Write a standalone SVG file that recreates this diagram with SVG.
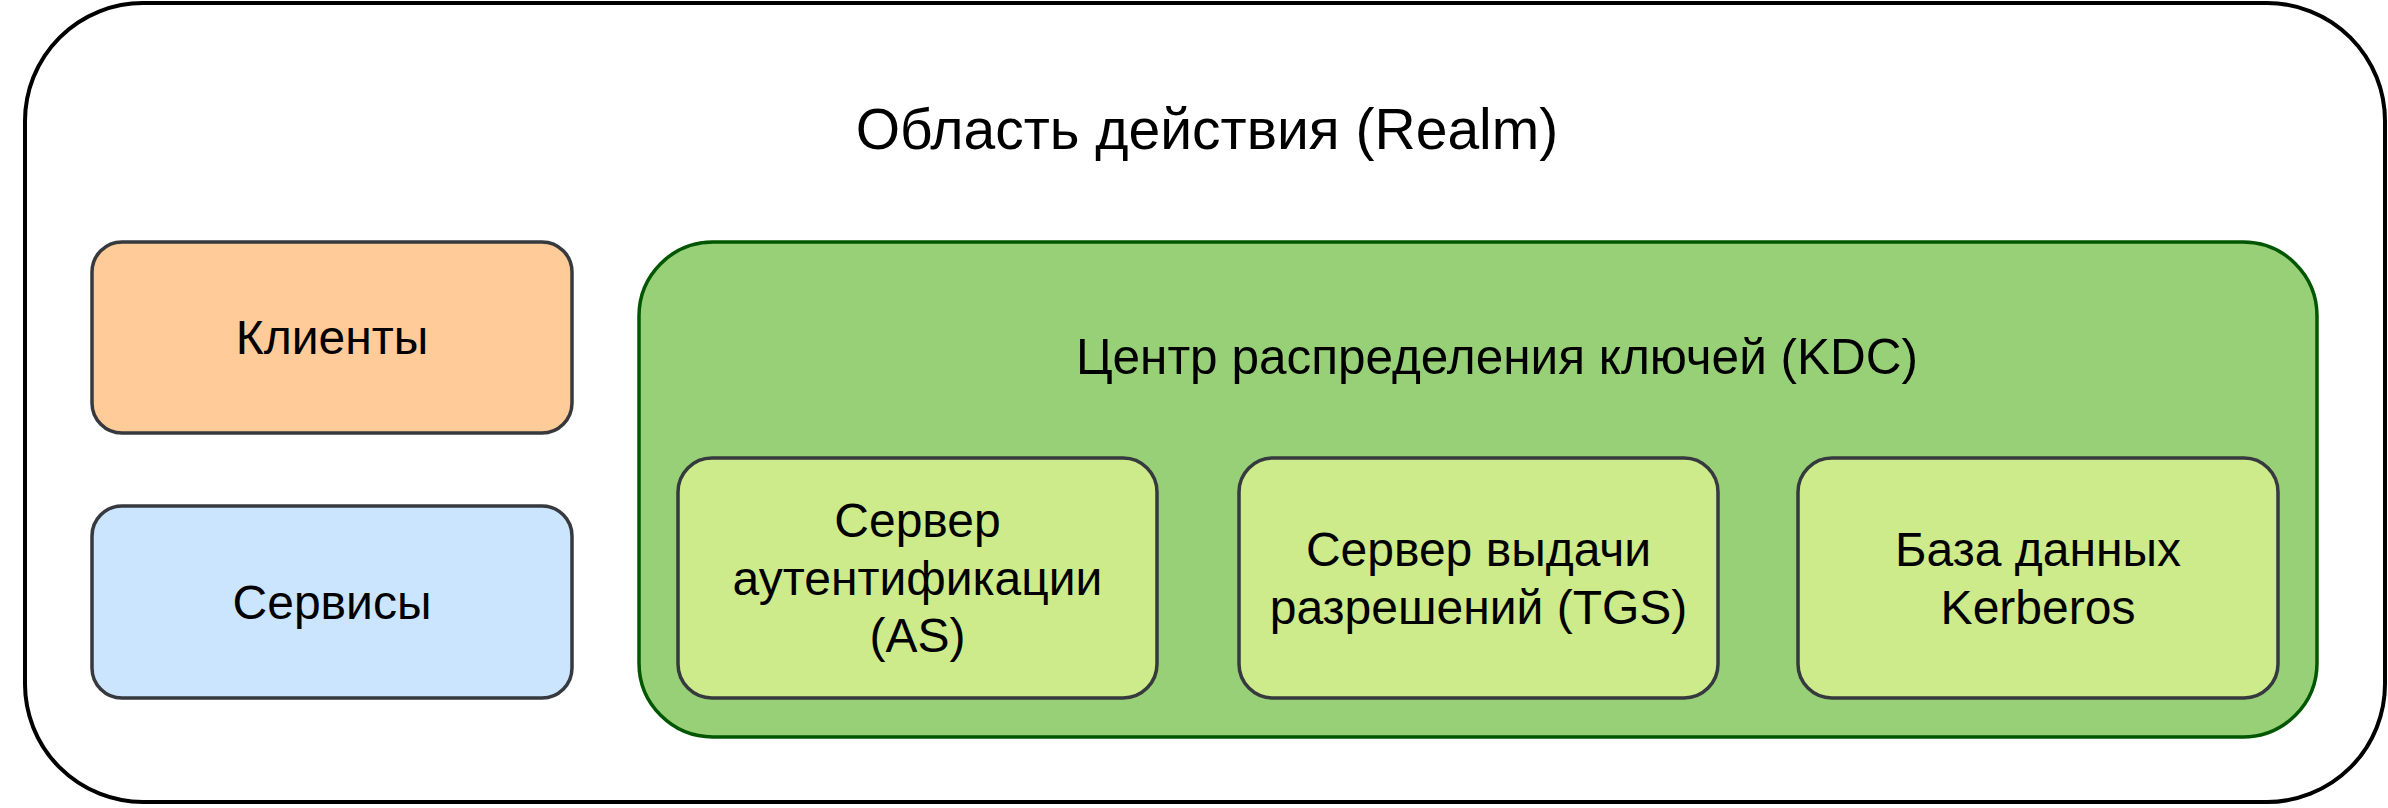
<svg xmlns="http://www.w3.org/2000/svg" width="2388" height="808" viewBox="0 0 2388 808">
<style>
text { font-family: "Liberation Sans", Arial, Helvetica, sans-serif; fill: #000000; text-anchor: middle; }
.t48 { font-size: 48px; }
.t49 { font-size: 49.5px; }
.t57 { font-size: 57px; }
.box { stroke: #36393d; stroke-width: 3.5; }
.client { fill: #ffcc99; }
.service { fill: #cce5ff; }
.inner { fill: #cdeb8b; }
</style>
<g id="realm">
<rect x="25" y="3" width="2360" height="799" rx="118" ry="118" fill="#ffffff" stroke="#000000" stroke-width="4"/>
<text class="t57" x="1207" y="149">Область действия (Realm)</text>
</g>
<g id="clients">
<rect class="box client" x="92" y="242" width="480" height="191" rx="30" ry="30"/>
<text class="t48" x="332" y="354">Клиенты</text>
</g>
<g id="services">
<rect class="box service" x="92" y="506" width="480" height="192" rx="30" ry="30"/>
<text class="t48" x="332" y="619">Сервисы</text>
</g>
<g id="kdc">
<rect x="639" y="242" width="1678" height="495" rx="74" ry="74" fill="#97d077" stroke="#005700" stroke-width="3.5"/>
<text class="t49" x="1497" y="374">Центр распределения ключей (KDC)</text>
</g>
<g id="as">
<rect class="box inner" x="678" y="458" width="479" height="240" rx="34" ry="34"/>
<text class="t48" x="917.5" y="537">Сервер</text>
<text class="t48" x="917.5" y="595">аутентификации</text>
<text class="t48" x="917.5" y="652">(AS)</text>
</g>
<g id="tgs">
<rect class="box inner" x="1239" y="458" width="479" height="240" rx="34" ry="34"/>
<text class="t48" x="1478.5" y="566">Сервер выдачи</text>
<text class="t48" x="1478.5" y="624">разрешений (TGS)</text>
</g>
<g id="db">
<rect class="box inner" x="1798" y="458" width="480" height="240" rx="34" ry="34"/>
<text class="t48" x="2038" y="566">База данных</text>
<text class="t48" x="2038" y="624">Kerberos</text>
</g>
<g id="connectors"></g>
</svg>
